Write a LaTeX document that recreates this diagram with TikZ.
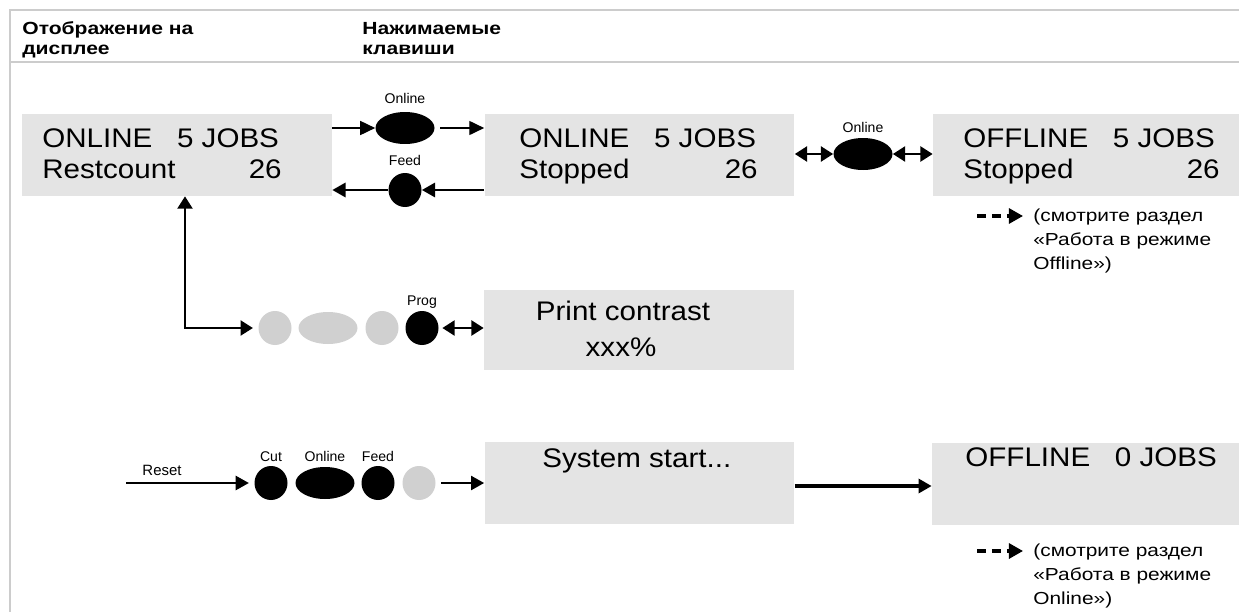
\documentclass[tikz,border=0pt]{standalone}
\usepackage{fontspec}
\setmainfont{Liberation Sans}
\newfontfamily\widefont[FakeStretch=1.1]{Liberation Sans}
\newfontfamily\notefont[FakeStretch=1.2]{Liberation Sans}
\usetikzlibrary{arrows.meta, shapes.geometric}
\definecolor{boxgray}{HTML}{E4E4E4}
\definecolor{keygray}{HTML}{D0D0D0}
\definecolor{rulegray}{HTML}{CCCCCC}
\tikzset{
  disp/.style={fill=boxgray, minimum width=6.2cm, minimum height=1.64cm, inner sep=0pt},
  dtxt/.style={font=\widefont\fontsize{15.3}{17}\selectfont, inner sep=0pt},
  ntxt/.style={font=\notefont\fontsize{9.9}{13.6}\selectfont, inner sep=0pt, align=left, anchor=base west},
  htxt/.style={font=\notefont\bfseries\fontsize{10}{11.3}\selectfont, inner sep=0pt, align=left, anchor=base west},
  lab/.style={font=\fontsize{8}{9}\selectfont, inner sep=0pt, anchor=base},
  keyc/.style={ellipse, fill=black, minimum width=0.66cm, minimum height=0.68cm, inner sep=0pt},
  keyw/.style={ellipse, fill=black, minimum width=1.18cm, minimum height=0.64cm, inner sep=0pt},
  arr/.style={-{Triangle[length=8.5pt,width=8pt]}, line width=0.8pt},
  arr2/.style={-{Triangle[length=7.5pt,width=8pt]}, line width=1.6pt},
  dbl/.style={{Triangle[length=7pt,width=8.5pt]}-{Triangle[length=7pt,width=8.5pt]}, line width=1.5pt},
  note/.style={dash pattern=on 5pt off 3.5pt, line width=1.8pt, -{Triangle[length=8pt,width=8.5pt]}}
}

\begin{document}
\begin{tikzpicture}[x=0.02cm, y=-0.02cm]
  \useasboundingbox (0,0) rectangle (1239,612);

  % frame and header
  \draw[rulegray, line width=1.6pt] (1239,10) -- (10,10) -- (10,612);
  \draw[rulegray, line width=1.6pt] (10,62) -- (1239,62);
  \node[htxt] (h1) at (22,54) {Отображение на\\дисплее};
  \node[htxt] (h2) at (362,54) {Нажимаемые\\клавиши};

  % displays
  \node[disp] (b1) at (177,155) {};
  \node[dtxt, anchor=base west] (b1a) at (42,147) {ONLINE\ \ \ 5 JOBS};
  \node[dtxt, anchor=base west] (b1b) at (42,178) {Restcount};
  \node[dtxt, anchor=base east] (b1c) at (282,178) {26};

  \node[disp] (b2) at (639.5,155) {};
  \node[dtxt, anchor=base west] (b2a) at (519,147) {ONLINE\ \ \ 5 JOBS};
  \node[dtxt, anchor=base west] (b2b) at (519,178) {Stopped};
  \node[dtxt, anchor=base east] (b2c) at (758,178) {26};

  \node[disp, minimum width=6.12cm] (b3) at (1086,155) {};
  \node[dtxt, anchor=base west] (b3a) at (963,147) {OFFLINE\ \ \ 5 JOBS};
  \node[dtxt, anchor=base west] (b3b) at (963,178) {Stopped};
  \node[dtxt, anchor=base east] (b3c) at (1220,178) {26};

  \node[disp, minimum height=1.6cm] (pc) at (639,330) {};
  \node[dtxt, anchor=base] (pca) at (623,320) {Print contrast};
  \node[dtxt, anchor=base] (pcb) at (621,356) {xxx\%};

  \node[disp] (ss) at (639.5,483) {};
  \node[dtxt, anchor=base west] (ssa) at (542,467) {System start...};

  \node[disp, minimum width=6.14cm] (b4) at (1085.5,484) {};
  \node[dtxt, anchor=base west] (b4a) at (965,466) {OFFLINE\ \ \ 0 JOBS};

  % keys
  \node[keyw] (on1) at (405,128) {};
  \node[lab] (on1l) at (405,103) {Online};
  \node[keyc] (fd1) at (405,190) {};
  \node[lab] (fd1l) at (405,165) {Feed};
  \node[keyw] (on2) at (863,154) {};
  \node[lab] (on2l) at (863,132) {Online};

  \node[keyc, fill=keygray] (g1) at (275,328) {};
  \node[keyw, fill=keygray] (g2) at (328,328) {};
  \node[keyc, fill=keygray] (g3) at (382,328) {};
  \node[keyc] (pr) at (422,328) {};
  \node[lab] (prl) at (422,305) {Prog};

  \node[keyc] (cut) at (271,483) {};
  \node[lab] (cutl) at (271,461) {Cut};
  \node[keyw] (on3) at (325,483) {};
  \node[lab] (on3l) at (325,461) {Online};
  \node[keyc] (fd2) at (378,483) {};
  \node[lab] (fd2l) at (378,461) {Feed};
  \node[keyc, fill=keygray] (g4) at (419,483) {};
  \node[lab, font=\fontsize{8.5}{9}\selectfont] (rsl) at (162,475) {Reset};

  % connectors
  \draw[arr] (b1.east |- on1) -- (on1);
  \draw[arr, shorten <=3pt] (on1) -- (b2.west |- on1);
  \draw[arr2] (b2.west |- fd1) -- (fd1);
  \draw[arr2] (fd1) -- (b1.east |- fd1);
  \draw[dbl] (b2.east |- on2) -- (on2);
  \draw[dbl] (on2) -- (b3.west |- on2);

  \coordinate (kn) at (185,328);
  \draw[dbl, line width=1.3pt, shorten >=3pt] (b1.south -| kn) -- (kn) -- (g1);
  \draw[dbl, shorten <=2pt] (pr) -- (pc.west |- pr);

  \coordinate (rs) at (126,483);
  \draw[arr2, line width=1.3pt, shorten >=3pt] (rs) -- (cut);
  \draw[arr2, line width=1.3pt, shorten <=3pt] (g4) -- (ss.west |- g4);
  \draw[arr2, line width=1.8pt] (ss.east |- 0,486) -- (b4.west |- 0,486);

  % notes
  \node[ntxt] (n1) at (1033,269) {(смотрите раздел\\«Работа в режиме\\Offline»)};
  \coordinate (n1s) at (977,216);
  \coordinate (n1e) at (1023,216);
  \draw[note] (n1s) -- (n1e);

  \node[ntxt] (n2) at (1033,604) {(смотрите раздел\\«Работа в режиме\\Online»)};
  \coordinate (n2s) at (977,551);
  \coordinate (n2e) at (1023,551);
  \draw[note] (n2s) -- (n2e);
\end{tikzpicture}
\end{document}
